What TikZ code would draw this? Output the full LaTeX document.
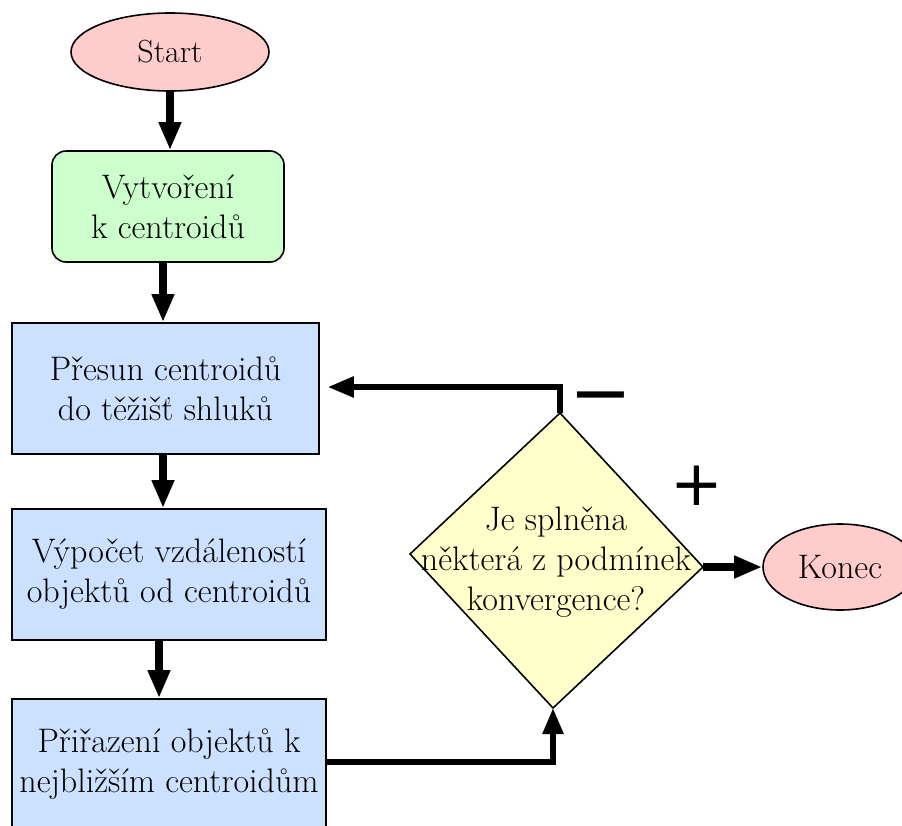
\documentclass[tikz,border=0pt]{standalone}
\usepackage{fontspec}
\newfontfamily\signfont{DejaVu Sans}
\usetikzlibrary{shapes.geometric,arrows.meta}

\definecolor{termfill}{RGB}{255,204,204}
\definecolor{initfill}{RGB}{204,255,204}
\definecolor{procfill}{RGB}{204,224,255}
\definecolor{decfill}{RGB}{255,255,204}

\tikzset{
  txt/.style={font=\fontsize{34}{40}\selectfont, align=center, inner sep=0pt},
  terminal/.style={txt, ellipse, draw, line width=1.6pt, fill=termfill},
  initbox/.style={txt, rectangle, rounded corners=14pt, draw, line width=1.6pt, fill=initfill},
  procbox/.style={txt, rectangle, draw, line width=1.6pt, fill=procfill},
  flow/.style={line width=7.5pt, -{Triangle[length=28pt,width=21pt]}},
  loopflow/.style={line width=5.5pt, line join=miter, -{Triangle[length=26pt,width=20pt]}},
  sign/.style={inner sep=0pt}
}

\begin{document}
\begin{tikzpicture}[x=1pt, y=-1pt]
  \useasboundingbox (0,0) rectangle (902,825);

  % terminals and process steps
  \node[terminal, font=\fontsize{32}{38}\selectfont, minimum width=198pt, minimum height=78pt] (start) at (170,52) {Start};
  \node[initbox, minimum width=232pt, minimum height=111pt] (init) at (168,206.5) {Vytvoření\\k centroidů};
  \node[procbox, minimum width=307pt, minimum height=131pt] (move) at (165.5,388.5) {Přesun centroidů\\do těžišť shluků};
  \node[procbox, minimum width=314pt, minimum height=131pt] (dist) at (169,574.5) {Výpočet vzdáleností\\objektů od centroidů};
  \node[procbox, minimum width=314pt, minimum height=130pt] (assign) at (169,764) {Přiřazení objektů k\\nejbližším centroidům};

  % decision diamond
  \coordinate (dtop) at (560,413);
  \coordinate (dright) at (703,567);
  \coordinate (dbot) at (553,708);
  \coordinate (dleft) at (410,554);
  \fill[decfill] (dtop) -- (dright) -- (dbot) -- (dleft) -- cycle;
  \draw[line width=1.6pt, line join=miter] (dtop) -- (dright) -- (dbot) -- (dleft) -- cycle;
  \node[txt] (cond) at (556,562) {Je splněna\\některá z podmínek\\konvergence?};

  \node[terminal, minimum width=154pt, minimum height=86pt] (stop) at (840,567) {Konec};

  % main flow
  \draw[flow] (start.south) -- (start.south |- init.north);
  \draw[flow] ([xshift=-5pt]init.south) -- ([xshift=-5pt]init.south |- move.north);
  \draw[flow] ([xshift=-2.5pt]move.south) -- ([xshift=-2.5pt]move.south |- dist.north);
  \draw[flow] ([xshift=-10pt]dist.south) -- ([xshift=-10pt]dist.south |- assign.north);
  \draw[flow] (dright) -- (stop.west);

  % loop back and into the decision
  \coordinate (back) at (560,387);
  \draw[loopflow, shorten >=8pt] (dtop) -- (back) -- (back -| move.east);
  \draw[loopflow] ([yshift=2pt]assign.east) -| (dbot);

  % branch labels
  \node[sign, font=\signfont\fontsize{75}{75}\selectfont] (minus) at (601,405) {−};
  \node[sign, font=\signfont\fontsize{63}{63}\selectfont] (plus) at (697,486) {+};
\end{tikzpicture}
\end{document}
